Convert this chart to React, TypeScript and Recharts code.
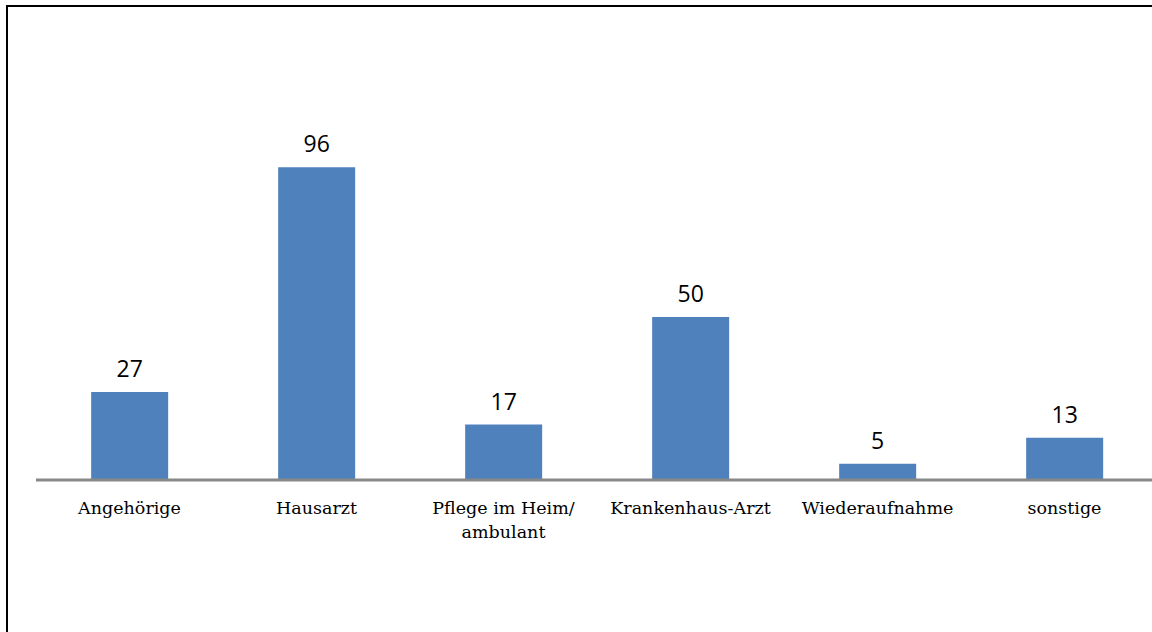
import { Bar, BarChart, XAxis, YAxis, LabelList } from "recharts"

const categories = [
  "Angehörige",
  "Hausarzt",
  "Pflege im Heim/ ambulant",
  "Krankenhaus-Arzt",
  "Wiederaufnahme",
  "sonstige",
]
const counts = [27, 96, 17, 50, 5, 13]

const data = categories.map((name, i) => ({ name, value: counts[i] }))

const CategoryTick = ({ x, y, payload }: any) => {
  const text: string = payload.value
  const lines = text.includes("/ ") ? [text.split("/ ")[0] + "/", text.split("/ ")[1]] : [text]
  return (
    <g transform={`translate(${x},${y})`}>
      {lines.map((line, i) => (
        <text
          key={i}
          x={0}
          y={i * 24}
          dy={26}
          textAnchor="middle"
          fill="#000"
          fontSize={17.5}
          fontFamily="'DejaVu Serif', serif"
        >
          {line}
        </text>
      ))}
    </g>
  )
}

export default function App() {
  return (
    <div
      style={{
        position: "fixed",
        left: 0,
        top: 0,
        width: 1152,
        height: 632,
        overflow: "hidden",
        background: "#fff",
      }}
    >
      <div
        style={{
          position: "absolute",
          left: 6,
          top: 5,
          width: 1300,
          height: 800,
          borderTop: "2px solid #000",
          borderLeft: "2px solid #000",
        }}
      />
      <div style={{ position: "absolute", left: 0, top: 0 }}>
        <BarChart
          width={1200}
          height={632}
          data={data}
          margin={{ top: 89, right: 42, bottom: 122, left: 36 }}
          barCategoryGap="29.5%"
        >
          <YAxis hide domain={[0, 120]} />
          <XAxis
            dataKey="name"
            axisLine={{ stroke: "#888", strokeWidth: 3 }}
            tickLine={false}
            interval={0}
            tick={<CategoryTick />}
          />
          <Bar dataKey="value" fill="#4f81bd" isAnimationActive={false}>
            <LabelList
              dataKey="value"
              position="top"
              offset={15}
              fill="#000"
              fontSize={23}
              fontFamily="'Open Sans', sans-serif"
            />
          </Bar>
        </BarChart>
      </div>
    </div>
  )
}
